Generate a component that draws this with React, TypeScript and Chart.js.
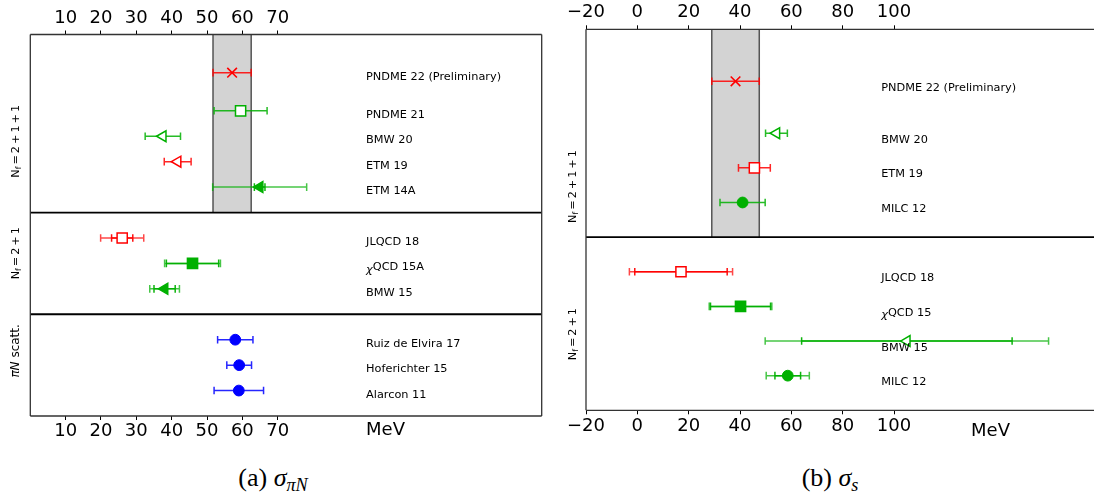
import React, { useEffect, useRef } from "react";
import { Chart, registerables } from "chart.js";
Chart.register(...registerables);
Chart.defaults.font.family = '"DejaVu Sans"';

// ---------- Panel (a): sigma_piN ----------
const aNames = [
  "PNDME 22 (Preliminary)", "PNDME 21", "BMW 20", "ETM 19", "ETM 14A",
  "JLQCD 18", "χQCD 15A", "BMW 15",
  "Ruiz de Elvira 17", "Hoferichter 15", "Alarcon 11",
];
const aRows = [1.5, 3, 4, 5, 6, 8, 9, 10, 12, 13, 14];
const aValues = [57.1, 59.5, 37.5, 41.7, 64.9, 26.0, 45.9, 38.0, 58.0, 59.1, 59.0];
const aInnerErr: (number | null)[] = [null, null, null, null, 1.5, 3.0, 7.4, 3.0, null, null, null];
const aTotalErr = [5.4, 7.5, 5.0, 3.8, 13.3, 6.1, 7.9, 4.2, 5.0, 3.5, 7.0];
const aColors = ["red", "green", "green", "red", "green", "red", "green", "green", "blue", "blue", "blue"];
const aMarkers = ["x", "sqOpen", "triOpen", "triOpen", "triFilled", "sqOpen", "sqFilled", "triFilled", "circle", "circle", "circle"];
const aBand = [51.7, 62.5];
const aSeparators = [7, 11];
const aGroupLabels = ["N_f=2+1+1", "N_f=2+1", "πN scatt."];
const aGroupRows = [4.2, 8.6, 12.44];
const aTickValues = [10, 20, 30, 40, 50, 60, 70];

// ---------- Panel (b): sigma_s ----------
const bNames = [
  "PNDME 22 (Preliminary)", "BMW 20", "ETM 19", "MILC 12",
  "JLQCD 18", "χQCD 15", "BMW 15", "MILC 12",
];
const bRows = [1.5, 3, 4, 5, 7, 8, 9, 10];
const bValues = [38.25, 54.2, 45.6, 41.0, 17.0, 40.2, 105.0, 58.6];
const bInnerErr: (number | null)[] = [null, null, null, null, 18.0, 11.7, 41.0, 5.0];
const bTotalErr = [9.25, 4.25, 6.2, 8.8, 20.1, 12.2, 55.2, 8.4];
const bColors = ["red", "green", "red", "green", "red", "green", "green", "green"];
const bMarkers = ["x", "triOpen", "sqOpen", "circle", "sqOpen", "sqFilled", "triOpen", "circle"];
const bBand = [29.0, 47.5];
const bSeparators = [6];
const bGroupLabels = ["N_f=2+1+1", "N_f=2+1"];
const bGroupRows = [4.54, 8.8];
const bTickValues = [-20, 0, 20, 40, 60, 80, 100];

const COLORS: Record<string, string> = { red: "#ff0000", green: "#00b000", blue: "#0000ff" };
const RGB: Record<string, string> = { red: "255,0,0", green: "0,176,0", blue: "0,0,255" };

type Marker = { style: string; radius: number; rotation: number; fill: boolean; bw: number };
const MARKERS: Record<string, Marker> = {
  x: { style: "crossRot", radius: 6.8, rotation: 0, fill: true, bw: 1.6 },
  sqOpen: { style: "rect", radius: 7.2, rotation: 0, fill: false, bw: 1.5 },
  sqFilled: { style: "rect", radius: 7.2, rotation: 0, fill: true, bw: 1.5 },
  triOpen: { style: "triangle", radius: 6.3, rotation: -90, fill: false, bw: 1.5 },
  triFilled: { style: "triangle", radius: 6.3, rotation: -90, fill: true, bw: 1.5 },
  circle: { style: "circle", radius: 5.4, rotation: 0, fill: true, bw: 1 },
};

type Panel = {
  names: string[]; rows: number[]; values: number[]; inner: (number | null)[]; total: number[];
  colors: string[]; markers: string[]; band: number[]; separators: number[];
  groupLabels: string[]; groupRows: number[]; ticks: number[];
  xMin: number; xMax: number; rowMax: number;
  padLeft: number; padRight: number; topH: number; bottomH: number;
  topPad: number; bottomPad: number; labelX: number; labelDy: number;
  unitX: number; unitY: number; groupX: number; rightBorder: boolean;
};

const panelA: Panel = {
  names: aNames, rows: aRows, values: aValues, inner: aInnerErr, total: aTotalErr,
  colors: aColors, markers: aMarkers, band: aBand, separators: aSeparators,
  groupLabels: aGroupLabels, groupRows: aGroupRows, ticks: aTickValues,
  xMin: 0, xMax: 144.7, rowMax: 15,
  padLeft: 30.3, padRight: 8.3, topH: 34.5, bottomH: 34,
  topPad: 1.4, bottomPad: 1, labelX: 95, labelDy: 0.16,
  unitX: 95, unitY: 430, groupX: 15, rightBorder: true,
};

const panelB: Panel = {
  names: bNames, rows: bRows, values: bValues, inner: bInnerErr, total: bTotalErr,
  colors: bColors, markers: bMarkers, band: bBand, separators: bSeparators,
  groupLabels: bGroupLabels, groupRows: bGroupRows, ticks: bTickValues,
  xMin: -20, xMax: 177.9, rowMax: 11,
  padLeft: 36, padRight: 0, topH: 29.3, bottomH: 39.7,
  topPad: 1.8, bottomPad: 1.6, labelX: 95, labelDy: 0.19,
  unitX: 130, unitY: 431.5, groupX: 21.6, rightBorder: false,
};

const LABEL_FONT = 11.3;

function drawGroupLabel(ctx: CanvasRenderingContext2D, text: string, cx: number, cy: number, size: number) {
  const F = (s: number, it = false) => `${it ? "italic " : ""}${s}px "DejaVu Sans"`;
  const pieces: { t: string; font: string; dy: number; padL: number; padR: number }[] = [];
  if (text.startsWith("N_f")) {
    pieces.push({ t: "N", font: F(size), dy: 0, padL: 0, padR: 0 });
    pieces.push({ t: "f", font: F(size * 0.7), dy: size * 0.22, padL: 0, padR: 0 });
    for (const ch of text.slice(3)) {
      const op = ch === "=" || ch === "+";
      pieces.push({ t: ch, font: F(size), dy: 0, padL: op ? size * 0.18 : 0, padR: op ? size * 0.18 : 0 });
    }
  } else if (text.startsWith("πN")) {
    pieces.push({ t: "πN", font: F(size, true), dy: 0, padL: 0, padR: 0 });
    pieces.push({ t: text.slice(2), font: F(size), dy: 0, padL: 0, padR: 0 });
  } else {
    pieces.push({ t: text, font: F(size), dy: 0, padL: 0, padR: 0 });
  }
  ctx.save();
  ctx.translate(cx, cy);
  ctx.rotate(-Math.PI / 2);
  ctx.fillStyle = "#000";
  ctx.textBaseline = "alphabetic";
  ctx.textAlign = "left";
  let total = 0;
  const widths = pieces.map((p) => {
    ctx.font = p.font;
    const w = ctx.measureText(p.t).width + p.padL + p.padR;
    total += w;
    return w;
  });
  let x = -total / 2;
  const base = size * 0.36;
  pieces.forEach((p, i) => {
    ctx.font = p.font;
    ctx.fillText(p.t, x + p.padL, base + p.dy);
    x += widths[i];
  });
  ctx.restore();
}

function drawLabel(ctx: CanvasRenderingContext2D, text: string, x: number, y: number) {
  ctx.fillStyle = "#000";
  ctx.textBaseline = "middle";
  ctx.textAlign = "left";
  if (text.startsWith("χ")) {
    ctx.font = `italic ${LABEL_FONT}px "DejaVu Sans"`;
    ctx.fillText("χ", x, y + 2.5);
    const w = ctx.measureText("χ").width;
    ctx.font = `${LABEL_FONT}px "DejaVu Sans"`;
    ctx.fillText(text.slice(1), x + w, y);
  } else {
    ctx.font = `${LABEL_FONT}px "DejaVu Sans"`;
    ctx.fillText(text, x, y);
  }
}

function panelPlugin(p: Panel) {
  return {
    id: "panelDecor",
    beforeDatasetsDraw(chart: any) {
      const { ctx, chartArea: ca, scales } = chart;
      const xs = scales.x, ys = scales.y;
      ctx.save();
      // band
      const bx0 = xs.getPixelForValue(p.band[0]);
      const bx1 = xs.getPixelForValue(p.band[1]);
      const by1 = ys.getPixelForValue(p.separators[0]);
      ctx.fillStyle = "#d3d3d3";
      ctx.fillRect(bx0, ca.top, bx1 - bx0, by1 - ca.top);
      ctx.strokeStyle = "#555";
      ctx.lineWidth = 1.5;
      ctx.beginPath();
      ctx.moveTo(bx0, ca.top); ctx.lineTo(bx0, by1);
      ctx.moveTo(bx1, ca.top); ctx.lineTo(bx1, by1);
      ctx.stroke();
      // error bars
      const cap = 3.8;
      p.values.forEach((v, i) => {
        const y = ys.getPixelForValue(p.rows[i]);
        const rgb = RGB[p.colors[i]];
        const lo = xs.getPixelForValue(v - p.total[i]);
        const hi = xs.getPixelForValue(v + p.total[i]);
        ctx.lineWidth = 1.5;
        ctx.strokeStyle = `rgba(${rgb},${p.inner[i] == null ? 0.85 : 0.72})`;
        ctx.beginPath();
        ctx.moveTo(lo, y); ctx.lineTo(hi, y);
        ctx.moveTo(lo, y - cap); ctx.lineTo(lo, y + cap);
        ctx.moveTo(hi, y - cap); ctx.lineTo(hi, y + cap);
        ctx.stroke();
        const inn = p.inner[i];
        if (inn != null) {
          const ilo = xs.getPixelForValue(v - inn);
          const ihi = xs.getPixelForValue(v + inn);
          ctx.strokeStyle = `rgba(${rgb},0.95)`;
          ctx.beginPath();
          ctx.moveTo(ilo, y); ctx.lineTo(ihi, y);
          ctx.moveTo(ilo, y - cap); ctx.lineTo(ilo, y + cap);
          ctx.moveTo(ihi, y - cap); ctx.lineTo(ihi, y + cap);
          ctx.stroke();
        }
      });
      ctx.restore();
    },
    afterDatasetsDraw(chart: any) {
      const { ctx, chartArea: ca, scales } = chart;
      const xs = scales.x, ys = scales.y;
      ctx.save();
      // separators
      ctx.strokeStyle = "#000";
      ctx.lineWidth = 1.8;
      ctx.beginPath();
      p.separators.forEach((s) => {
        const y = ys.getPixelForValue(s);
        ctx.moveTo(ca.left, y); ctx.lineTo(ca.right, y);
      });
      ctx.stroke();
      // frame
      ctx.strokeStyle = "#333";
      ctx.lineWidth = 1.3;
      ctx.beginPath();
      ctx.moveTo(ca.left, ca.top); ctx.lineTo(ca.right, ca.top);
      ctx.moveTo(ca.left, ca.bottom); ctx.lineTo(ca.right, ca.bottom);
      ctx.moveTo(ca.left, ca.top); ctx.lineTo(ca.left, ca.bottom);
      if (p.rightBorder) { ctx.moveTo(ca.right, ca.top); ctx.lineTo(ca.right, ca.bottom); }
      ctx.stroke();
      // labels
      p.names.forEach((n, i) => {
        drawLabel(ctx, n, xs.getPixelForValue(p.labelX), ys.getPixelForValue(p.rows[i] + p.labelDy));
      });
      // group labels
      p.groupLabels.forEach((g, i) => {
        drawGroupLabel(ctx, g, p.groupX, ys.getPixelForValue(p.groupRows[i]), g.startsWith("π") ? 12 : 11.2);
      });
      // unit
      ctx.fillStyle = "#000";
      ctx.font = '18px "DejaVu Sans"';
      ctx.textBaseline = "middle";
      ctx.textAlign = "left";
      ctx.fillText("MeV", xs.getPixelForValue(p.unitX), p.unitY);
      ctx.restore();
    },
  };
}

function xAxis(position: "top" | "bottom", p: Panel) {
  return {
    type: "linear",
    axis: "x",
    position,
    min: p.xMin,
    max: p.xMax,
    afterBuildTicks: (s: any) => { s.ticks = p.ticks.map((v) => ({ value: v })); },
    afterFit: (s: any) => { s.height = position === "top" ? p.topH : p.bottomH; },
    ticks: {
      autoSkip: false,
      maxRotation: 0,
      color: "#000",
      padding: position === "top" ? p.topPad : p.bottomPad,
      font: { size: 18, family: '"DejaVu Sans"' },
      callback: (v: number) => (v < 0 ? "\u2212" + Math.abs(v) : String(v)),
    },
    grid: { drawOnChartArea: false, drawTicks: true, tickLength: 4, tickColor: "#000", tickWidth: 1 },
    border: { display: false },
  };
}

function makeChart(canvas: HTMLCanvasElement, p: Panel) {
  const ms = p.markers.map((m) => MARKERS[m]);
  return new Chart(canvas, {
    type: "scatter",
    data: {
      datasets: [
        {
          data: p.values.map((v, i) => ({ x: v, y: p.rows[i] })),
          pointStyle: ms.map((m) => m.style) as any,
          pointRadius: ms.map((m) => m.radius),
          pointHoverRadius: ms.map((m) => m.radius),
          pointRotation: ms.map((m) => m.rotation),
          backgroundColor: ms.map((m, i) => (m.fill ? COLORS[p.colors[i]] : "#ffffff")),
          borderColor: p.colors.map((c) => COLORS[c]),
          borderWidth: ms.map((m) => m.bw),
          pointBorderWidth: ms.map((m) => m.bw),
          showLine: false,
        } as any,
      ],
    },
    options: {
      responsive: false,
      animation: false,
      events: [],
      layout: { autoPadding: false, padding: { left: p.padLeft, right: p.padRight, top: 0, bottom: 0 } },
      plugins: { legend: { display: false }, tooltip: { enabled: false } },
      scales: {
        x: xAxis("bottom", p) as any,
        x2: xAxis("top", p) as any,
        y: { type: "linear", min: 0, max: p.rowMax, reverse: true, display: false },
      },
    } as any,
    plugins: [panelPlugin(p) as any],
  });
}

export default function App() {
  const refA = useRef<HTMLCanvasElement>(null);
  const refB = useRef<HTMLCanvasElement>(null);
  useEffect(() => {
    const ca = makeChart(refA.current!, panelA);
    const cb = makeChart(refB.current!, panelB);
    return () => { ca.destroy(); cb.destroy(); };
  }, []);
  const cap: React.CSSProperties = {
    position: "absolute", top: 463, textAlign: "center",
    font: '26px "Liberation Serif"', lineHeight: "30px", color: "#000",
  };
  const sub: React.CSSProperties = { fontSize: "0.7em", position: "relative", top: "0.28em", fontStyle: "italic" };
  return (
    <div style={{ position: "absolute", left: 0, top: 0, width: 1094, height: 497, background: "#fff", overflow: "hidden" }}>
      <canvas ref={refA} width={550} height={450} style={{ position: "absolute", left: 0, top: 0, width: 550, height: 450 }} />
      <canvas ref={refB} width={544} height={450} style={{ position: "absolute", left: 550, top: 0, width: 544, height: 450 }} />
      <div style={{ ...cap, left: 0, width: 546 }}>
        (a) <i>σ</i><span style={sub}>πN</span>
      </div>
      <div style={{ ...cap, left: 566, width: 528 }}>
        (b) <i>σ</i><span style={sub}>s</span>
      </div>
    </div>
  );
}
